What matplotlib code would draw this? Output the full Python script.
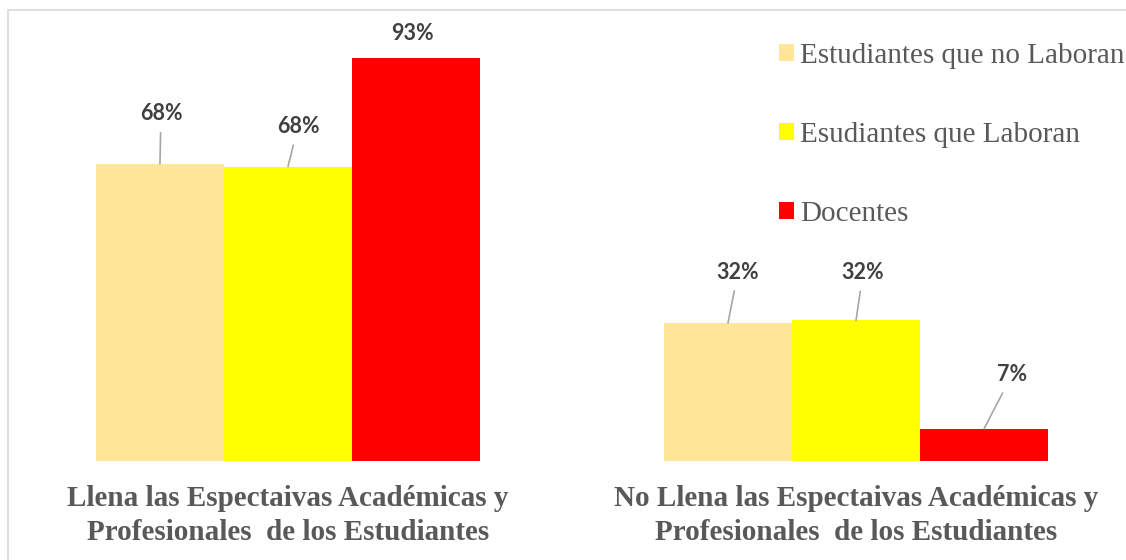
import matplotlib.pyplot as plt
from matplotlib.patches import Rectangle, Patch
import numpy as np

categories = ['Llena las Espectaivas Académicas y\nProfesionales  de los Estudiantes',
              'No Llena las Espectaivas Académicas y\nProfesionales  de los Estudiantes']
series = ['Estudiantes que no Laboran', 'Esudiantes que Laboran', 'Docentes']
no_laboran = [0.683, 0.317]
laboran = [0.677, 0.323]
docentes = [0.926, 0.074]

colors = ['#FFE699', '#FFFF00', '#FF0000']
# label offsets (pixels) from the top of each bar, per series and category
offsets = [[(1, 50), (10, 51)],
           [(10, 40), (7, 48)],
           [(-4, 25), (28, 54)]]

W, H = 1126, 560
fig = plt.figure(figsize=(W / 100, H / 100), dpi=100)
ax = fig.add_axes([8 / W, (H - 461) / H, (W - 8) / W, 451 / H])

# chart border
fig.patches.append(Rectangle((8 / W, -0.1), 1.2, (H - 10) / H + 0.1, transform=fig.transFigure,
                             fill=False, edgecolor='#D9D9D9', lw=1.2))

x = np.arange(len(categories))
width = 0.2254
values = [no_laboran, laboran, docentes]
for i, (vals, name, col) in enumerate(zip(values, series, colors)):
    pos = x + (i - 1) * width
    ax.bar(pos, vals, width, color=col, label=name)
    for j, (px, v) in enumerate(zip(pos, vals)):
        dx, dy = offsets[i][j]
        arrow = None if dy < 30 else dict(arrowstyle='-', color='#A6A6A6', lw=1.2,
                                          shrinkA=4, shrinkB=0)
        ax.annotate(f'{v * 100:.0f}%', xy=(px, v), xytext=(dx, dy), textcoords='offset pixels',
                    ha='center', va='center', fontsize=15.5, fontweight='bold',
                    family='Lato', color='#404040', arrowprops=arrow)

ax.set_xlim(-(288 - 8) / 568, 1 + (1126 - 856) / 568)
ax.set_ylim(0, 451 / 435)
ax.set_xticks(x)
ax.set_xticklabels(categories, fontsize=21, fontweight='bold', family='Liberation Serif',
                   color='#595959', linespacing=1.36)
ax.tick_params(axis='x', length=0, pad=17)
ax.set_yticks([])
for s in ax.spines.values():
    s.set_visible(False)

handles = [Patch(facecolor=c, edgecolor='none') for c in colors]
fig.legend(handles, series, loc='upper left', bbox_to_anchor=(779 / W, 1 - 43 / H),
           frameon=False, borderpad=0, borderaxespad=0,
           prop={'family': 'Liberation Serif', 'size': 21},
           labelcolor='#595959', handlelength=0.52, handleheight=0.52,
           handletextpad=0.2, labelspacing=1.82)

fig.savefig('out.png', dpi=100)
